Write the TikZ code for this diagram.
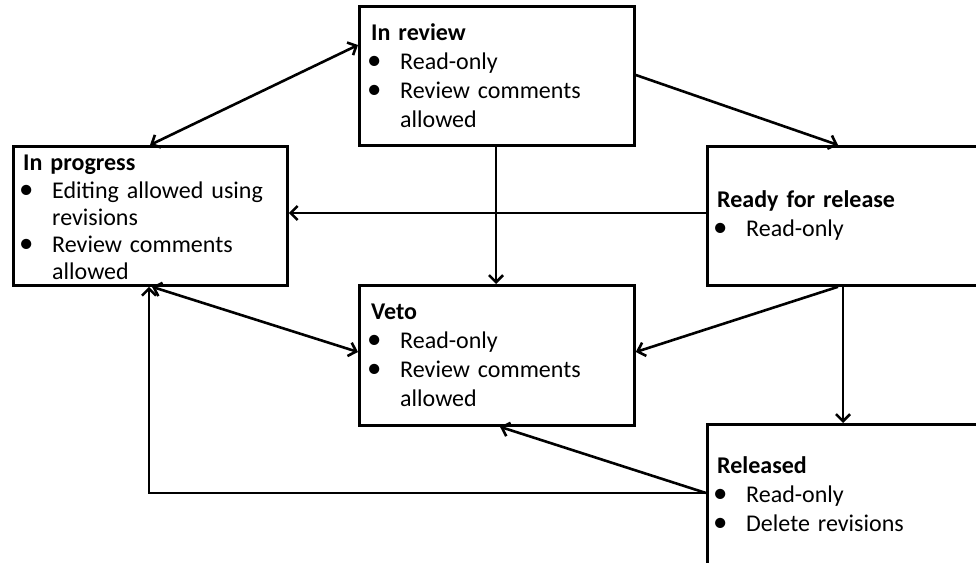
\documentclass[tikz,border=0pt]{standalone}
\usepackage{fontspec}
\setmainfont{Carlito}
\usetikzlibrary{arrows.meta,calc}
\newcommand{\itm}[1]{\par\noindent\hangindent=29pt\hangafter=1\makebox[29pt][l]{\hspace{-4pt}\scalebox{1.2}{\textbullet}}#1}
\newcommand{\tstart}{\rightskip=0pt plus 1fil\relax\noindent}
\begin{document}
\begin{tikzpicture}[x=1pt,y=-1pt,
  statebox/.style={draw, line width=2.8pt, rectangle, anchor=north west, inner sep=0pt, fill=white},
  statetxt/.style={inner sep=0pt, text width=268pt, font=\fontsize{24}{29}\selectfont},
  conn/.style={line width=2.6pt, -{Straight Barb[length=7pt,width=14pt]}},
  dconn/.style={line width=2.6pt, {Straight Barb[length=7pt,width=14pt]}-{Straight Barb[length=7pt,width=14pt]}}]
\useasboundingbox (0,0) rectangle (976,562);
\clip (0,0) rectangle (976,562);
% boxes
\node[statebox, minimum width=274pt, minimum height=139pt] (ip) at (12,145) {};
\node[statebox, minimum width=275pt, minimum height=139pt] (ir) at (358,5) {};
\node[statebox, minimum width=280pt, minimum height=139pt] (rr) at (706,145) {};
\node[statebox, minimum width=275pt, minimum height=140pt] (vt) at (358,284) {};
\node[statebox, minimum width=280pt, minimum height=140pt] (rl) at (706,423) {};
% texts
\node[statetxt, anchor=north west, font=\fontsize{24}{27.3}\selectfont] (ipt) at ($(ip.north west)+(11,10)$)
  {\tstart\textbf{In progress}\itm{Editing allowed using\newline revisions}\itm{Review comments\newline allowed}\par};
\node[statetxt, anchor=north west] (irt) at ($(ir.north west)+(13,18)$)
  {\tstart\textbf{In review}\itm{Read-only}\itm{Review comments\newline allowed}\par};
\node[statetxt, anchor=north west] (vtt) at ($(vt.north west)+(13,20)$)
  {\tstart\textbf{Veto}\itm{Read-only}\itm{Review comments\newline allowed}\par};
\node[statetxt, anchor=west] (rrt) at ($(rr.west)+(11,0)$)
  {\tstart\textbf{Ready for release}\itm{Read-only}\par};
\node[statetxt, anchor=west] (rlt) at ($(rl.west)+(11,0)$)
  {\tstart\textbf{Released}\itm{Read-only}\itm{Delete revisions}\par};
% connectors
\draw[dconn] ($(ip.north west)+(138,0)$) -- ($(ir.north west)+(0,40)$);
\draw[conn] ($(ir.north east)+(0,70)$) -- ($(rr.north west)+(132,0)$);
\draw[conn] ($(ir.south west)+(138,0)$) -- ($(vt.north west)+(138,0)$);
\draw[conn] ($(rr.north west)+(0,68)$) -- ($(ip.north east)+(0,68)$);
\draw[conn] ($(rr.south west)+(132,0)$) -- ($(vt.north east)+(0,68)$);
\draw[conn] ($(rr.south west)+(137,0)$) -- ($(rl.north west)+(137,0)$);
\draw[dconn] ($(ip.south west)+(140,0)$) -- ($(vt.north west)+(0,68)$);
\draw[conn] ($(rl.north west)+(0,70)$) -| ($(ip.south west)+(137,0)$);
\draw[conn] ($(rl.north west)+(0,70)$) -- ($(vt.south west)+(142,0)$);
\end{tikzpicture}
\end{document}
